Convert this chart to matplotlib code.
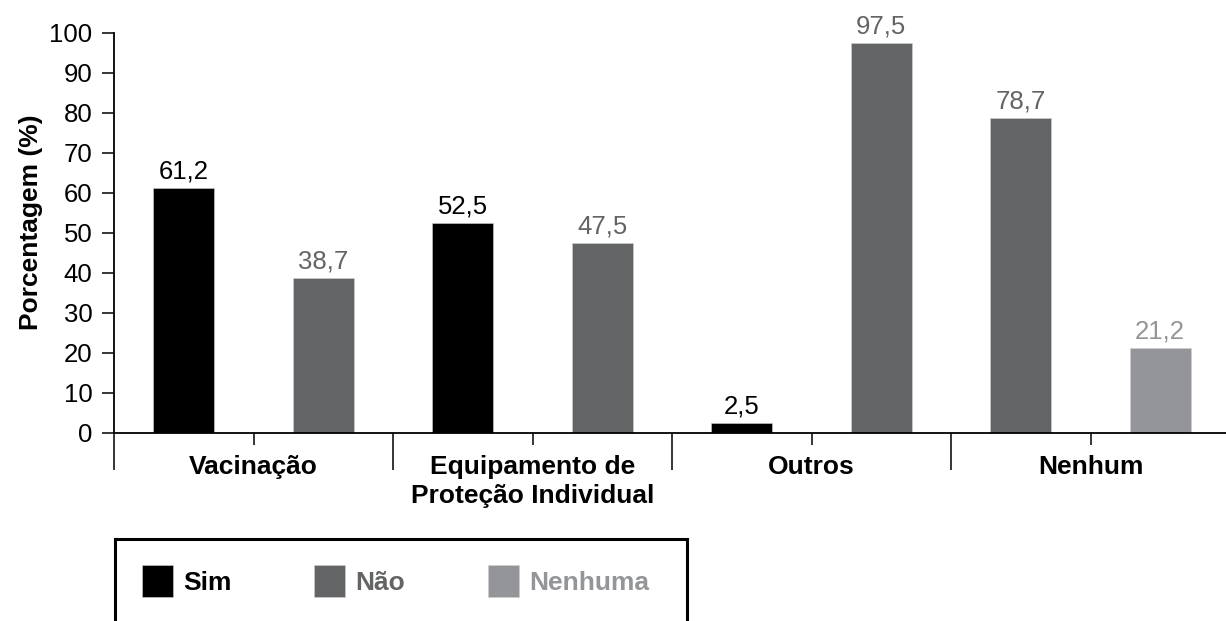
import numpy as np
import matplotlib
matplotlib.use("Agg")
import matplotlib.pyplot as plt
from matplotlib.patches import Rectangle
from matplotlib.ticker import FixedLocator, NullFormatter

plt.rcParams['font.family'] = ['Liberation Sans', 'DejaVu Sans']

# data
categories = ["Vacinação", "Equipamento de\nProteção Individual", "Outros", "Nenhum"]
sim = [61.2, 52.5, 2.5, np.nan]
nao = [38.7, 47.5, 97.5, 78.7]
nenhuma = [np.nan, np.nan, np.nan, 21.2]
series_names = ["Sim", "Não", "Nenhuma"]
series_colors = ["#000000", "#636466", "#939598"]

W, H = 1226, 621
fig = plt.figure(figsize=(W / 100, H / 100), dpi=100)
ax = fig.add_axes([114 / W, (H - 433) / H, 1116 / W, 400 / H])

x = np.arange(len(categories))
bw = 0.22
off = 0.25


def fmt(v):
    return "{:.1f}".format(v).replace(".", ",")


def draw(xs, vals, color, label):
    xs = np.asarray(xs, dtype=float)
    vals = np.asarray(vals, dtype=float)
    keep = ~np.isnan(vals)
    bars = ax.bar(xs[keep], vals[keep], width=bw, color=color, label=label,
                  edgecolor="#d0d0d0", linewidth=0.4, zorder=2)
    for b, v in zip(bars, vals[keep]):
        ax.annotate(fmt(v), (b.get_x() + b.get_width() / 2, v),
                    xytext=(0, 7), textcoords="offset points",
                    ha="center", va="baseline", fontsize=18.5, color=color)
    return bars


has_sim = ~np.isnan(np.array(sim, dtype=float))
h_sim = draw(x - off, sim, series_colors[0], series_names[0])
# "Não" sits on the right of "Sim", or on the left when there is no "Sim"
h_nao = draw(np.where(has_sim, x + off, x - off), nao, series_colors[1], series_names[1])
h_nen = draw(x + off, nenhuma, series_colors[2], series_names[2])

ax.set_xlim(-0.5, len(categories) - 0.5)
ax.set_ylim(0, 100)
ax.set_yticks(np.arange(0, 101, 10))
ax.tick_params(axis="y", length=8.6, width=1.1, pad=7, labelsize=18.5)

# long separators between groups, short ticks at group centres
ax.xaxis.set_major_locator(FixedLocator(np.arange(len(categories) + 1) - 0.5))
ax.xaxis.set_major_formatter(NullFormatter())
ax.xaxis.set_minor_locator(FixedLocator(x))
ax.xaxis.set_minor_formatter(NullFormatter())
ax.tick_params(axis="x", which="major", length=26.6, width=1.1)
ax.tick_params(axis="x", which="minor", length=8.6, width=1.1)

for i, c in enumerate(categories):
    ax.text(i, -0.056, c, transform=ax.get_xaxis_transform(), ha="center",
            va="top", fontsize=19, fontweight="bold", linespacing=1.25)

for s in ["top", "right"]:
    ax.spines[s].set_visible(False)
for s in ["left", "bottom"]:
    ax.spines[s].set_linewidth(1.3)

ax.set_ylabel("Porcentagem (%)", fontsize=19, fontweight="bold")
ax.yaxis.set_label_coords(-0.0636, 0.5275)

# legend with a frame that runs off the bottom of the figure
leg = fig.legend(handles=[h_sim, h_nao, h_nen], labels=series_names, ncol=3,
                 loc="center left", bbox_to_anchor=(142 / W, 1 - 581 / H),
                 frameon=False, borderpad=0, borderaxespad=0,
                 handlelength=1.17, handleheight=1.45,
                 handletextpad=0.38, columnspacing=3.15,
                 prop={"size": 19, "weight": "bold"})
for t, c in zip(leg.get_texts(), series_colors):
    t.set_color(c)
fig.patches.append(Rectangle((115 / W, -0.05), (687 - 115) / W, (H - 539) / H + 0.05,
                             transform=fig.transFigure, fill=False,
                             edgecolor="black", linewidth=2.2))

fig.savefig("out.png", dpi=100)
